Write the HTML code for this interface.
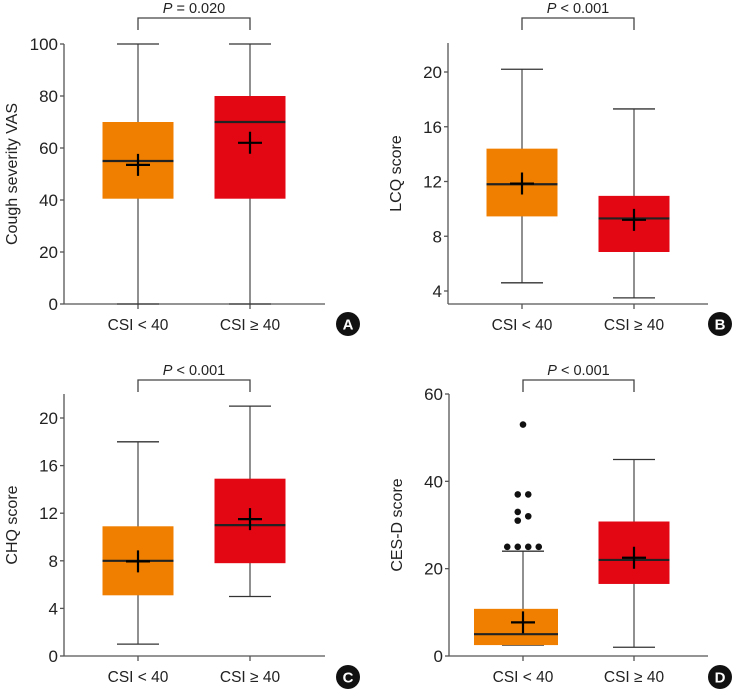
<!DOCTYPE html>
<html><head><meta charset="utf-8"><style>
body{margin:0;background:#fff;}
svg{display:block;font-family:"Liberation Sans",sans-serif;}
</style></head><body>
<svg id="c" width="746" height="690"></svg>
<script>
const categories=["CSI < 40","CSI \u2265 40"];
const panelLetters=["A","B","C","D"];
const yTitles=["Cough severity VAS","LCQ score","CHQ score","CES-D score"];
const pLabels=["= 0.020","< 0.001","< 0.001","< 0.001"];
const ticksA=[0,20,40,60,80,100];
const ticksB=[4,8,12,16,20];
const ticksC=[0,4,8,12,16,20];
const ticksD=[0,20,40,60];
// [min,q1,median,q3,max,mean]
const statsA=[[0,40.5,55,70,100,53.5],[0,40.5,70,80,100,62]];
const statsB=[[4.6,9.45,11.8,14.4,20.2,11.85],[3.5,6.85,9.3,10.95,17.3,9.2]];
const statsC=[[1,5.1,8,10.9,18,7.95],[5,7.8,11,14.9,21,11.5]];
const statsD=[[2.5,2.5,5,10.8,24,7.7],[2,16.5,22,30.8,45,22.5]];
const outlierValsD=[53,37,37,33,31,32,25,25,25,25];
const outlierColsD=[0,-0.5,0.5,-0.5,-0.5,0.5,-1.5,-0.5,0.5,1.5];

const svg=document.getElementById('c');
const NS="http://www.w3.org/2000/svg";
function mk(t,a,p){const e=document.createElementNS(NS,t);for(const k in a)e.setAttribute(k,a[k]);(p||svg).appendChild(e);return e;}

const panels=[
 {ticks:ticksA,stats:statsA,ax:64,xe:325,yb:304,yt:44,v0:0,v1:100,top:44,cx:[138,250],br:18,lx:348,ly:324},
 {ticks:ticksB,stats:statsB,ax:448,xe:708,yb:291,yt:72,v0:4,v1:20,top:43,cx:[522,634],br:18,lx:720,ly:324},
 {ticks:ticksC,stats:statsC,ax:64,xe:325,yb:656,yt:418,v0:0,v1:20,top:394,cx:[138,250],br:380,lx:348,ly:677},
 {ticks:ticksD,stats:statsD,ax:449,xe:708,yb:656,yt:394,v0:0,v1:60,top:394,cx:[523,634],br:380,lx:720,ly:677}
];
const colors=["#f07f00","#e30613"];

panels.forEach((p,pi)=>{
 const g=mk('g',{});
 
 
 const y=v=>p.yb-(v-p.v0)/(p.v1-p.v0)*(p.yb-p.yt);
 const axisBottom=pi===1?304:p.yb;
 const ya=mk('line',{x1:p.ax,y1:p.top,x2:p.ax,y2:axisBottom,stroke:'#555','stroke-width':1.3},g);
 
 const xa=mk('line',{x1:p.ax,y1:axisBottom,x2:p.xe,y2:axisBottom,stroke:'#555','stroke-width':1.3},g);
 
 p.ticks.forEach(t=>{
  mk('line',{x1:p.ax-4,y1:y(t),x2:p.ax,y2:y(t),stroke:'#555','stroke-width':1.3},g);
  const tl=mk('text',{x:p.ax-6,y:y(t)+6,'text-anchor':'end','font-size':17,fill:'#222'},g);
  tl.textContent=t;
  
 });
 const ymid=(p.top+axisBottom)/2;
 const yt=mk('text',{x:0,y:0,'text-anchor':'middle','font-size':16,fill:'#222',transform:`translate(${p.ax-47},${ymid}) rotate(-90)`},g);
 yt.textContent=yTitles[pi];
 
 p.stats.forEach((s,i)=>{
  const cx=p.cx[i];
  mk('line',{x1:cx,y1:axisBottom,x2:cx,y2:axisBottom+5,stroke:'#555','stroke-width':1.3},g);
  const cl=mk('text',{x:cx,y:axisBottom+26,'text-anchor':'middle','font-size':15.5,fill:'#222'},g);
  cl.textContent=categories[i];
  
  const wk=mk('line',{x1:cx,y1:y(s[0]),x2:cx,y2:y(s[4]),stroke:'#555','stroke-width':1.3},g);
  
  [s[0],s[4]].forEach(v=>mk('line',{x1:cx-21,y1:y(v),x2:cx+21,y2:y(v),stroke:'#333','stroke-width':1.3},g));
  let bx=cx-35.5,bw=71;
  if(pi===3&&i===0){bx=474;bw=84;}
  const b=mk('rect',{x:bx,y:y(s[3]),width:bw,height:y(s[1])-y(s[3]),fill:colors[i]},g);
  
  const md=mk('line',{x1:bx,y1:y(s[2]),x2:bx+bw,y2:y(s[2]),stroke:'#222','stroke-width':2.2},g);
  
  const my=y(s[5]);
  const mn=mk('path',{d:`M${cx-12},${my}H${cx+12}M${cx},${my-11}V${my+11}`,stroke:'#000','stroke-width':2.2,fill:'none'},g);
  
 });
 if(pi===3){
  outlierValsD.forEach((v,k)=>{
   const o=mk('circle',{cx:p.cx[0]+outlierColsD[k]*10.5,cy:y(v),r:3.3,fill:'#111'},g);
   
  });
 }
 const br=mk('path',{d:`M${p.cx[0]},${p.br+12}V${p.br}H${p.cx[1]}V${p.br+12}`,stroke:'#444','stroke-width':1.3,fill:'none'},g);
 
 const pt=mk('text',{x:(p.cx[0]+p.cx[1])/2,y:p.br-5,'text-anchor':'middle','font-size':14.5,fill:'#222'},g);
 pt.innerHTML='<tspan font-style="italic">P</tspan> '+pLabels[pi].replace('<','&lt;');
 
 const c=mk('circle',{cx:p.lx,cy:p.ly,r:12,fill:'#111'},g);
 
 const lt=mk('text',{x:p.lx,y:p.ly+5.5,'text-anchor':'middle','font-size':15,'font-weight':'bold',fill:'#fff'},g);
 lt.textContent=panelLetters[pi];
 
});
</script>
</body></html>
